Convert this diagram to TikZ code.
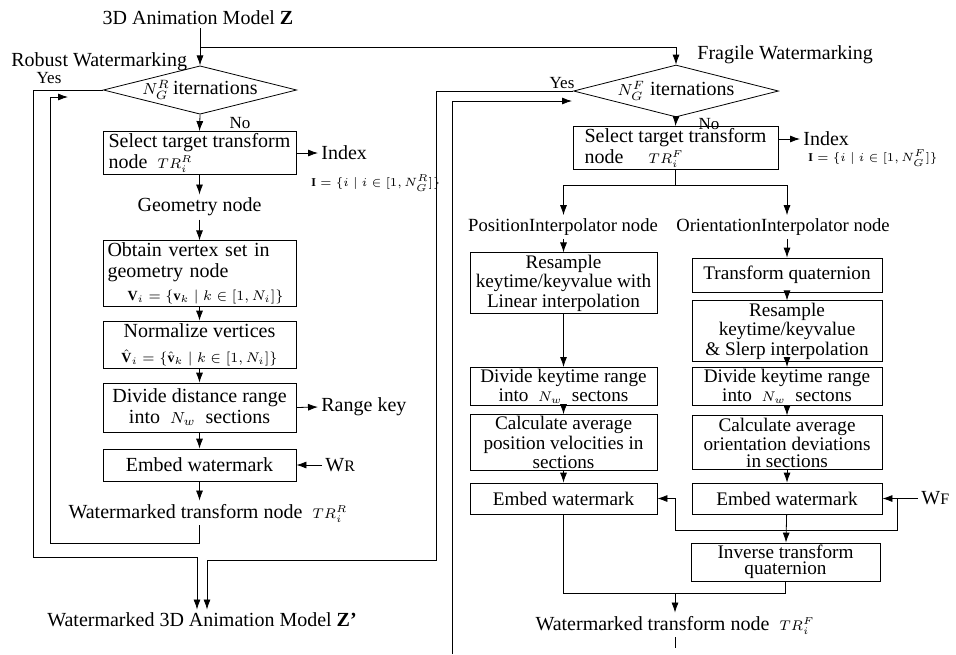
\documentclass[tikz,border=0pt]{standalone}
\usepackage{fontspec}
\setmainfont{Liberation Serif}
\usetikzlibrary{shapes.geometric,arrows.meta}
\tikzset{
	box/.style={draw, inner sep=1pt, align=center, font=\fontsize{10}{10.5}\selectfont},
	tbox/.style={box, font=\fontsize{9.6}{8.2}\selectfont},
	lcol/.style={box, minimum width=96.5pt},
	pcol/.style={tbox, minimum width=93.5pt},
	ocol/.style={tbox, minimum width=95pt},
	dia/.style={draw, diamond, aspect=4, inner sep=0pt, font=\fontsize{10}{10}\selectfont},
	lbl/.style={inner sep=1.5pt, font=\fontsize{10}{10}\selectfont},
	ilbl/.style={lbl, font=\fontsize{9.3}{9.3}\selectfont},
	yn/.style={lbl, font=\fontsize{8.5}{8.5}\selectfont},
	setlbl/.style={lbl, font=\fontsize{6}{6}\selectfont},
}
\begin{document}
\begin{tikzpicture}[x=0.5pt,y=-0.5pt,>={Latex[length=5pt,width=3.5pt]}]
	\useasboundingbox (0,0) rectangle (956,654);
	\node[lbl] (model) at (198,18) {3D Animation Model \textbf{Z}};
	\node[lbl,anchor=west] (robust) at (8,62) {Robust Watermarking};
	\node[lbl,anchor=west] (fragile) at (694,55) {Fragile Watermarking};
	\coordinate (split) at (200,47);
	\node[dia, minimum width=96pt, minimum height=24pt] (dR) at (200,90) {{\footnotesize$N_G^R$}\,iternations};
	\node[dia, minimum width=102.5pt, minimum height=26pt] (dF) at (676,91) {{\footnotesize$N_G^F$}\ iternations};
	\node[yn] (yesR) at (49,78) {Yes};
	\node[yn] (noR) at (240,123) {No};
	\node[yn] (yesF) at (562,83) {Yes};
	\node[yn] (noF) at (709,124) {No};
	\draw[->] (model.south -| dR.north) -- (dR.north);
	\draw[->] (split) -| (dF.north);
	% robust branch
	\node[lcol, minimum height=20pt, align=left] (selR) at (199.5,153) {Select target transform\\node \ {\scriptsize$TR_i^R$}};
	\node[lbl,anchor=west] (idxR) at (318,153) {Index};
	\node[setlbl,anchor=west] (setR) at (308,183) {$\mathbf{I}=\{i\mid i\in[1,N_G^R]\}$};
	\node[lbl] (geo) at (199.5,207) {Geometry node};
	\node[lcol, minimum height=31.5pt, text width=92pt, align=left] (obt) at (199.5,273.5) {Obtain vertex set in\\geometry node\\[1pt] \hspace*{10pt}{\scriptsize$\mathbf{V}_i=\{\mathbf{v}_k\mid k\in[1,N_i]\}$}};
	\node[lcol, minimum height=23.5pt] (norm) at (199.5,344.5) {Normalize vertices\\[2pt]{\scriptsize$\hat{\mathbf{V}}_i=\{\hat{\mathbf{v}}_k\mid k\in[1,N_i]\}$}};
	\node[lcol, minimum height=24.5pt] (div) at (199.5,407.5) {Divide distance range\\into \ {\footnotesize$N_w$} \ sections};
	\node[lbl,anchor=west] (rkey) at (318,407) {Range key};
	\node[lcol, minimum height=16pt] (embR) at (199.5,465) {Embed watermark};
	\node[lbl,anchor=west] (wR) at (322,465) {W{\footnotesize R}};
	\node[lbl] (wtR) at (208,513) {Watermarked transform node \ {\scriptsize$TR_i^R$}};
	\draw[->] (dR.south) -- (selR.north);
	\draw[->] (selR.east) -- (idxR.west);
	\draw[->] (selR.south) -- (geo.north);
	\draw[->] (geo.south) -- (obt.north);
	\foreach \a/\b in {obt/norm,norm/div,div/embR}
		\draw[->] (\a) -- (\b);
	\draw[->] (div.east) -- (rkey.west);
	\draw[->] (wR.west) -- (embR.east);
	\draw[->] (embR.south) -- (embR.south |- wtR.north);
	\coordinate (rl) at (50,543);
	\coordinate (rloop) at (68,97);
	\draw[->] (wtR.south -| embR.south) |- (rl) |- (rloop);
	% fragile branch
	\node[box, minimum width=102.5pt, minimum height=20pt, align=left] (selF) at (675.5,148) {Select target transform\\node \quad{\scriptsize$TR_i^F$}};
	\node[lbl,anchor=west] (idxF) at (800,139) {Index};
	\node[setlbl,anchor=west] (setF) at (805,158) {$\mathbf{I}=\{i\mid i\in[1,N_G^F]\}$};
	\coordinate (fork) at (675.5,185);
	\node[ilbl] (posN) at (563,227) {PositionInterpolator node};
	\node[ilbl] (oriN) at (783,227) {OrientationInterpolator node};
	\node[pcol, minimum height=25pt] (resL) at (563.5,283) {Resample\\keytime/keyvalue with\\Linear interpolation};
	\node[ocol, minimum height=17pt] (quat) at (787,275) {Transform quaternion};
	\node[ocol, minimum height=24pt] (slerp) at (787,331) {Resample\\keytime/keyvalue\\\& Slerp interpolation};
	\node[pcol, minimum height=15.5pt] (divL) at (563.5,386.5) {Divide keytime range\\into \ {\scriptsize$N_w$} \ sectons};
	\node[ocol, minimum height=15.5pt] (divO) at (787,386.5) {Divide keytime range\\into \ {\scriptsize$N_w$} \ sectons};
	\node[pcol, minimum height=24.5pt] (calcL) at (563.5,442.5) {Calculate average\\position velocities in\\sections};
	\node[ocol, minimum height=24.5pt] (calcO) at (787,442.5) {Calculate average\\orientation deviations\\in sections};
	\node[pcol, minimum height=15.5pt] (embL) at (563.5,498.5) {Embed watermark};
	\node[ocol, minimum height=15.5pt] (embO) at (787,498.5) {Embed watermark};
	\node[lbl,anchor=west] (wF) at (918,498.5) {W{\footnotesize F}};
	\node[ocol, minimum width=94.5pt, minimum height=16pt] (inv) at (785.5,562) {Inverse transform\\quaternion};
	\node[lbl] (wtF) at (675,625) {Watermarked transform node \ {\scriptsize$TR_i^F$}};
	\draw[->] (dF.south) -- (selF.north);
	\draw[->] (selF.east |- idxF.west) -- (idxF.west);
	\draw (selF.south) -- (fork);
	\draw[->] (fork) -| (posN.north -| resL.north);
	\draw[->] (fork) -| (oriN.north -| quat.north);
	\draw[->] (posN.south -| resL.north) -- (resL.north);
	\draw[->] (oriN.south -| quat.north) -- (quat.north);
	\foreach \a/\b in {resL/divL,divL/calcL,calcL/embL,quat/slerp,slerp/divO,divO/calcO,calcO/embO,embO/inv}
		\draw[->] (\a) -- (\b);
	\draw[->] (wF.west) -- (embO.east);
	\coordinate (wfb) at (897,530);
	\coordinate (wfl) at (675,530);
	\draw[->] (wF.west -| wfb) -- (wfb) -- (wfl) |- (embL.east);
	\coordinate (mrg) at (675,593);
	\draw (embL.south) |- (mrg);
	\draw (inv.south) |- (mrg);
	\draw[->] (mrg) -- (wtF.north -| mrg);
	\coordinate (fend) at (675,648);
	\draw (wtF.south -| fend) -- (fend);
	\coordinate (fl) at (452,654);
	\coordinate (floop) at (572,101);
	\draw[->] (fl) |- (floop);
	% back to output
	\node[lbl] (outZ) at (202,620) {Watermarked 3D Animation Model \textbf{Z’}};
	\coordinate (outL) at (33,557);
	\coordinate (outR) at (436,560);
	\draw[->] (dR.west) -| (outL) -| ([xshift=-2.5pt]outZ.north);
	\draw[->] (dF.west) -| (outR) -| ([xshift=2.5pt]outZ.north);
\end{tikzpicture}
\end{document}
